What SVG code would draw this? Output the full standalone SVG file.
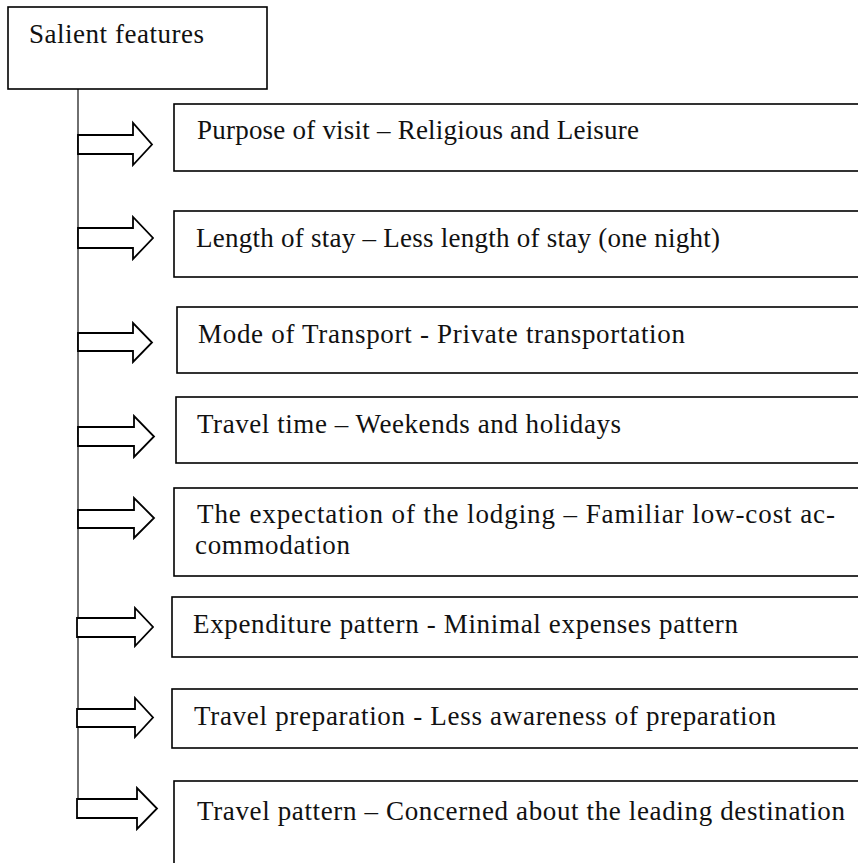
<svg xmlns="http://www.w3.org/2000/svg" width="858" height="863" viewBox="0 0 858 863">
<style>
.box{fill:#fff;stroke:#000;stroke-width:1.6}
.t{font-family:"Liberation Serif","Times New Roman",serif;font-size:27px;fill:#111}
.arrow{fill:#fff;stroke:#000;stroke-width:1.8;stroke-linejoin:miter}
.spine{stroke:#222;stroke-width:1.3;fill:none}
</style>
<rect width="858" height="863" fill="#fff"/>
<g id="connectors">
<line class="spine" x1="78" y1="89" x2="78" y2="818"/>
<path class="arrow" d="M78,135 H133 V123 L152,144.5 L133,165 V154 H78 Z"/>
<path class="arrow" d="M78,228 H133 V217 L153,238 L133,259 V248 H78 Z"/>
<path class="arrow" d="M78,333 H133 V323 L152,342.5 L133,362 V351 H78 Z"/>
<path class="arrow" d="M78,427 H134 V416 L154,436.5 L134,457 V446 H78 Z"/>
<path class="arrow" d="M78,510 H134 V498 L154,518 L134,538 V528 H78 Z"/>
<path class="arrow" d="M77,618 H135 V608 L153,627 L135,646 V637 H77 Z"/>
<path class="arrow" d="M77,709 H135 V698 L153,717.5 L135,737 V727 H77 Z"/>
<path class="arrow" d="M77,799 H137 V788 L157,808.5 L137,829 V818 H77 Z"/>
</g>
<g id="salient">
<rect class="box" x="8" y="7" width="259" height="82"/>
<text class="t" x="29" y="43" textLength="175" lengthAdjust="spacing">Salient features</text>
</g>
<g id="purpose">
<rect class="box" x="174" y="104" width="700" height="67"/>
<text class="t" x="197" y="139" textLength="442" lengthAdjust="spacing">Purpose of visit – Religious and Leisure</text>
</g>
<g id="length">
<rect class="box" x="174" y="211" width="700" height="66"/>
<text class="t" x="196" y="247" textLength="524" lengthAdjust="spacing">Length of stay – Less length of stay (one night)</text>
</g>
<g id="mode">
<rect class="box" x="177" y="307" width="700" height="66"/>
<text class="t" x="198" y="343" textLength="487" lengthAdjust="spacing">Mode of Transport - Private transportation</text>
</g>
<g id="traveltime">
<rect class="box" x="176" y="397" width="700" height="66"/>
<text class="t" x="197" y="433" textLength="424" lengthAdjust="spacing">Travel time – Weekends and holidays</text>
</g>
<g id="lodging">
<rect class="box" x="174" y="488" width="700" height="88"/>
<text class="t" x="197" y="523" textLength="638" lengthAdjust="spacing">The expectation of the lodging – Familiar low-cost ac-</text>
<text class="t" x="195" y="554" textLength="155" lengthAdjust="spacing">commodation</text>
</g>
<g id="expenditure">
<rect class="box" x="172" y="597" width="700" height="60"/>
<text class="t" x="193" y="633" textLength="545" lengthAdjust="spacing">Expenditure pattern - Minimal expenses pattern</text>
</g>
<g id="preparation">
<rect class="box" x="172" y="689" width="700" height="59"/>
<text class="t" x="194" y="725" textLength="582" lengthAdjust="spacing">Travel preparation - Less awareness of preparation</text>
</g>
<g id="pattern">
<rect class="box" x="174" y="781" width="700" height="120"/>
<text class="t" x="197" y="820" textLength="648" lengthAdjust="spacing">Travel pattern – Concerned about the leading destination</text>
</g>
</svg>
